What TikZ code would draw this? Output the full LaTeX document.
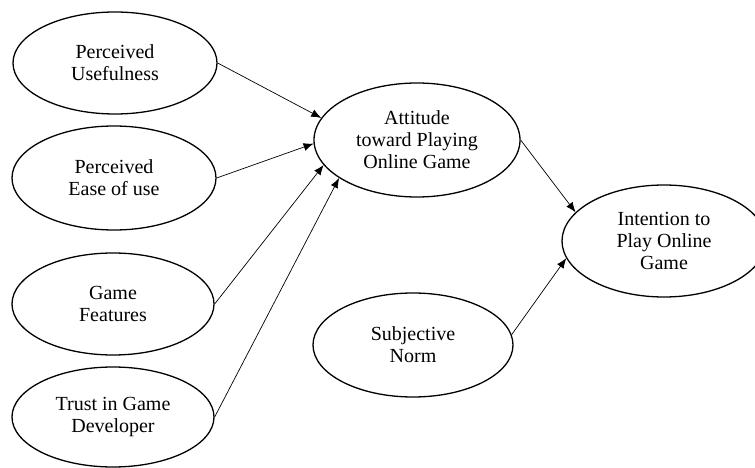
\documentclass[tikz,border=0pt]{standalone}
\usepackage{fontspec}
\setmainfont{Liberation Serif}
\usetikzlibrary{shapes.geometric,arrows.meta}
\begin{document}
\begin{tikzpicture}[x=1bp,y=-1bp,
  construct/.style={ellipse,draw=black,line width=1.3bp,inner sep=0pt,align=center,
    font=\fontsize{20bp}{22bp}\selectfont},
  link/.style={draw=black,line width=0.7bp,-{Latex[length=10bp,width=8bp]}}]
\useasboundingbox (0,0) rectangle (755,468);

% predictors of attitude
\node[construct,minimum width=204bp,minimum height=102bp] (pu) at (115,63) {Perceived\\Usefulness};
\node[construct,minimum width=204bp,minimum height=104bp] (pe) at (114,178) {Perceived\\Ease of use};
\node[construct,minimum width=202bp,minimum height=102bp] (gf) at (113,304) {Game\\Features};
\node[construct,minimum width=202bp,minimum height=100bp] (td) at (113,417) {Trust in Game\\Developer};

% attitude, norm and intention
\node[construct,minimum width=206bp,minimum height=114bp] (att) at (417,140) {Attitude\\toward Playing\\Online Game};
\node[construct,minimum width=200bp,minimum height=104bp] (sn) at (413,345) {Subjective\\Norm};
\node[construct,minimum width=204bp,minimum height=112bp] (int) at (664,241) {Intention to\\Play Online\\Game};

% paths
\draw[link] (pu.east) -- (att.167);
\draw[link] (pe.east) -- (att.182);
\draw[link] (gf.east) -- (att.195);
\draw[link] (td.east) -- (att.206);
\draw[link] (att.east) -- (int.162);
\draw[link] (sn.6) -- (int.190);
\end{tikzpicture}
\end{document}
